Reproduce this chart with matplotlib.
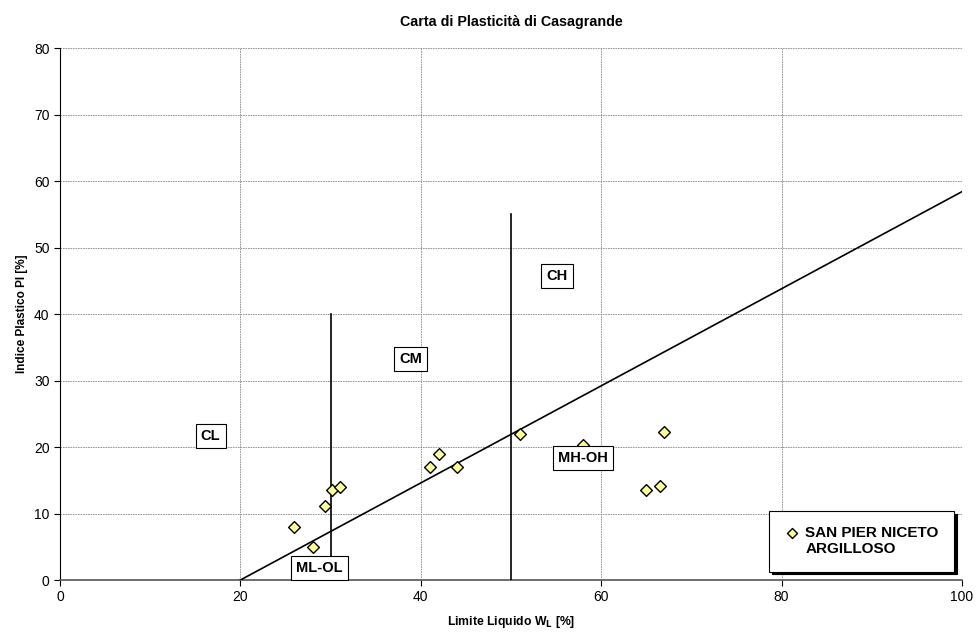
import matplotlib
matplotlib.use("Agg")
import matplotlib.pyplot as plt
from matplotlib.legend_handler import HandlerPathCollection

plt.rcParams['font.family'] = ['Liberation Sans', 'DejaVu Sans']

# Sample data: liquid limit and plasticity index
liquid_limit = [26.0, 28.0, 29.4, 30.2, 31.1, 41.0, 42.0, 44.0, 51.0, 58.0, 67.0, 66.5, 65.0]
plastic_index = [8.0, 5.0, 11.2, 13.5, 14.0, 17.0, 19.0, 17.0, 22.0, 20.3, 22.2, 14.2, 13.5]
series_name = "SAN PIER NICETO\nARGILLOSO"

# Casagrande A-line: PI = 0.73 (LL - 20)
a_line_ll = [20, 100]
a_line_pi = [0.73 * (v - 20) for v in a_line_ll]

# Vertical boundaries (LL, top PI)
boundaries_ll = [30, 50]
boundaries_top = [40, 55]

# Zone labels
zone_names = ["CL", "CM", "CH", "ML-OL", "MH-OH"]
zone_ll = [16.7, 38.9, 55.1, 28.8, 58.0]
zone_pi = [21.6, 33.2, 45.7, 1.8, 18.3]

x_ticks = [0, 20, 40, 60, 80, 100]
y_ticks = [0, 10, 20, 30, 40, 50, 60, 70, 80]

fig = plt.figure(figsize=(9.78, 6.36), dpi=100)
ax = fig.add_axes([0.0613, 0.088, 0.9223, 0.8365])

ax.set_xlim(0, 100)
ax.set_ylim(0, 80)
ax.set_xticks(x_ticks)
ax.set_yticks(y_ticks)
ax.tick_params(direction='out', length=4, width=0.8, labelsize=10, color='black')
ax.grid(True, color='#888888', linestyle=(0, (2, 1)), linewidth=0.6)
ax.set_axisbelow(True)
for side in ['top', 'right']:
    ax.spines[side].set_visible(False)
ax.spines['left'].set_color('black')
ax.spines['bottom'].set_color('#555555')
ax.spines['bottom'].set_linewidth(1.2)

ax.plot(a_line_ll, a_line_pi, color='black', linewidth=1.2, zorder=3)
for ll, top in zip(boundaries_ll, boundaries_top):
    ax.plot([ll, ll], [0, top], color='black', linewidth=1.2, zorder=3)

pts = ax.scatter(liquid_limit, plastic_index, marker='D', s=36, facecolor='#ffff99',
                 edgecolor='black', linewidth=1.0, zorder=4, label=series_name)

for name, ll, pi in zip(zone_names, zone_ll, zone_pi):
    ax.text(ll, pi, name, ha='center', va='center', fontsize=10.5, fontweight='bold',
            bbox=dict(boxstyle='square,pad=0.35', facecolor='white', edgecolor='black',
                      linewidth=0.8), zorder=6)

leg = ax.legend(handles=[pts], loc='lower right', bbox_to_anchor=(0.991, 0.016),
                fancybox=False, shadow={'color': 'black', 'alpha': 1.0}, framealpha=1.0,
                edgecolor='black', prop={'weight': 'bold', 'size': 11},
                handletextpad=0.35, borderpad=1.0, markerscale=0.85, handlelength=1.0,
                borderaxespad=0.0,
                handler_map={pts: HandlerPathCollection(yoffsets=[1.3])})
leg.get_frame().set_linewidth(0.8)
leg.set_zorder(7)

ax.set_title("Carta di Plasticità di Casagrande", fontsize=10.3, fontweight='bold', pad=16)
ax.set_xlabel("Limite Liquido W$_\\mathbf{L}$ [%]", fontsize=8.8, fontweight='bold', labelpad=7)
ax.set_ylabel("Indice Plastico PI [%]", fontsize=8.5, fontweight='bold', labelpad=4)

fig.savefig("out.png", dpi=100, facecolor='white')
